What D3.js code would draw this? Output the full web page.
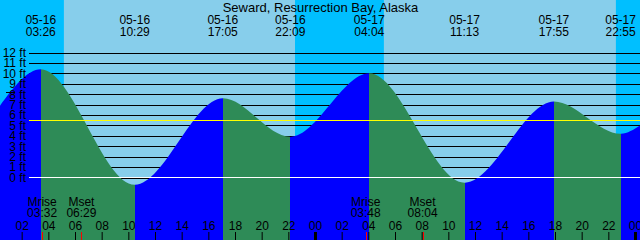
<!DOCTYPE html>
<html><head><meta charset="utf-8">
<script src="https://cdn.jsdelivr.net/npm/d3@7"></script>
<style>
html,body{margin:0;padding:0;background:#fff;}
svg{display:block;}
text{font-family:"Liberation Sans",Arial,sans-serif;font-size:12px;fill:#000;}
</style></head><body>
<svg id="chart" width="640" height="240"></svg>
<script>
const title = "Seward, Resurrection Bay, Alaska";
// tide extremes
const tideDates   = ["05-16","05-16","05-16","05-16","05-17","05-17","05-17","05-17"];
const tideTimes   = ["03:26","10:29","17:05","22:09","04:04","11:13","17:55","22:55"];
const tideHeights = [10.4, -0.7, 7.6, 3.9, 10.0, -0.5, 7.3, 4.2];
// tide level at the chart edges
const edgeTimes   = ["05-16 00:22:30", "05-18 00:22:30"];
const edgeHeights = [6.9, 5.0];
// sun
const sunrises = ["05-16 05:10", "05-17 05:10"];
const sunsets  = ["05-16 22:30", "05-17 22:34"];
// moon
const moonrises = ["05-16 03:32", "05-17 03:48"];
const moonsets  = ["05-16 06:29", "05-17 08:04"];
// depth ticks (ft)
const depthTicks = [0,1,2,3,4,5,6,7,8,9,10,11,12];
const meanLevel = 5.47;
const markLevel = 8.2;

function parse(s){
  const [md, hm] = s.split(" ");
  const [mo, d] = md.split("-").map(Number);
  const p = hm.split(":").map(Number);
  return new Date(2024, mo-1, d, p[0], p[1], p[2]||0);
}

const W = 640, H = 240;
const svg = d3.select("#chart");
const t0 = parse(edgeTimes[0]), t1 = parse(edgeTimes[1]);
const x = d3.scaleTime().domain([t0, t1]).range([0, W]);
const y = d3.scaleLinear().domain([0, 12]).range([177.5, 52.5]);

// sky
svg.append("rect").attr("x",0).attr("y",0).attr("width",W).attr("height",H).attr("fill","#00BFFF");
sunrises.forEach((sr,i)=>{
  const a = x(parse(sr)), b = x(parse(sunsets[i]));
  svg.append("rect").attr("x",a).attr("y",0).attr("width",b-a).attr("height",H).attr("fill","#87CEEB");
});

// grid lines (behind water)
const grid = svg.append("g").attr("transform","translate(29,0)")
  .call(d3.axisRight(y).tickValues(depthTicks).tickSize(W-29).tickFormat(""));
grid.select(".domain").remove();
grid.selectAll("line").attr("stroke","#000").attr("shape-rendering","crispEdges");

// tide points
const pts = [{t:t0, h:edgeHeights[0]}];
tideTimes.forEach((tm,i)=>pts.push({t:parse(tideDates[i]+" "+tm), h:tideHeights[i]}));
pts.push({t:t1, h:edgeHeights[1]});

const area = d3.area().x(d=>x(d.t)).y0(H).y1(d=>y(d.h)).curve(d3.curveMonotoneX);
const defs = svg.append("defs");
for (let i=0;i<pts.length-1;i++){
  const a = Math.round(x(pts[i].t)), b = Math.round(x(pts[i+1].t));
  const id = "seg"+i;
  defs.append("clipPath").attr("id",id).append("rect")
    .attr("x",a).attr("y",0).attr("width",b-a).attr("height",H);
  svg.append("path").datum(pts).attr("d",area)
    .attr("fill", pts[i+1].h > pts[i].h ? "#0000FF" : "#2E8B57")
    .attr("clip-path","url(#"+id+")");
}

// mean level & zero line
svg.append("line").attr("x1",29).attr("x2",W).attr("y1",y(meanLevel)).attr("y2",y(meanLevel))
  .attr("stroke","#FFFF00").attr("shape-rendering","crispEdges");
svg.append("line").attr("x1",29).attr("x2",W).attr("y1",y(0)).attr("y2",y(0))
  .attr("stroke","#FFFFFF").attr("shape-rendering","crispEdges");
svg.append("line").attr("x1",6).attr("x2",15).attr("y1",y(markLevel)).attr("y2",y(markLevel))
  .attr("stroke","#000").attr("shape-rendering","crispEdges");

// depth labels
const lab = svg.append("g").attr("transform","translate(29,0)")
  .call(d3.axisLeft(y).tickValues(depthTicks).tickSize(0).tickPadding(3).tickFormat(d=>d+" ft"));
lab.select(".domain").remove();
lab.selectAll("text").attr("font-size",12).attr("font-family","Liberation Sans, Arial, sans-serif").attr("fill","#000");

// title
svg.append("text").attr("x",320.5).attr("y",12).attr("text-anchor","middle").style("font-size","13px").text(title);

// tide time labels
tideTimes.forEach((tm,i)=>{
  const px = x(parse(tideDates[i]+" "+tm));
  svg.append("text").attr("x",px).attr("y",24).attr("text-anchor","middle").text(tideDates[i]);
  svg.append("text").attr("x",px).attr("y",36).attr("text-anchor","middle").text(tm);
});

// moon labels and marks
function moonLabel(arr, name){
  arr.forEach(s=>{
    const px = x(parse(s));
    svg.append("text").attr("x",px).attr("y",205.5).attr("text-anchor","middle").text(name);
    svg.append("text").attr("x",px).attr("y",217).attr("text-anchor","middle").text(s.split(" ")[1]);
    svg.append("line").attr("x1",Math.round(px)+0.5).attr("x2",Math.round(px)+0.5).attr("y1",232).attr("y2",H)
      .attr("stroke","#FF0000");
  });
}
moonLabel(moonrises, "Mrise");
moonLabel(moonsets, "Mset");

// time axis
const ax = svg.append("g").attr("transform","translate(0,"+H+")")
  .call(d3.axisTop(x).ticks(d3.timeHour.every(2)).tickFormat(d3.timeFormat("%H")).tickSize(8).tickPadding(2));
ax.select(".domain").remove();
ax.selectAll("text").attr("font-size",12).attr("font-family","Liberation Sans, Arial, sans-serif").attr("fill","#000");
ax.selectAll(".tick line").attr("stroke","#000")
  .attr("stroke-width", d=>d.getHours()===0 ? 3 : 1);
</script>
</body></html>
